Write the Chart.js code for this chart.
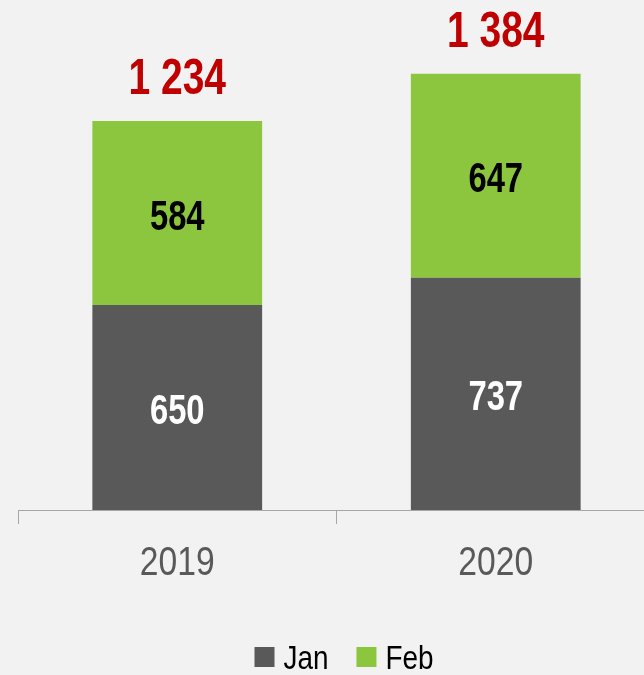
<!DOCTYPE html>
<html>
<head>
<meta charset="utf-8">
<script src="https://cdn.jsdelivr.net/npm/chart.js@4/dist/chart.umd.min.js"></script>
<style>
  html, body { margin:0; padding:0; background:#f2f2f2; overflow:hidden; }
  #wrap { width:688px; height:675px; }
</style>
</head>
<body>
<div id="wrap"><canvas id="chart" width="688" height="675"></canvas></div>
<script>
const years   = ['2019', '2020'];
const janVals = [650, 737];
const febVals = [584, 647];
const totalLabels = ['1 234', '1 384'];

const FONT = '"Liberation Sans", Arial, sans-serif';
Chart.defaults.font.family = FONT;

// Arial Narrow isn't installed, so squeeze Liberation Sans horizontally
function narrowText(ctx, text, x, yMid, size, bold, color, sx, align) {
  ctx.save();
  ctx.font = (bold ? 'bold ' : '') + size + 'px ' + FONT;
  ctx.fillStyle = color;
  ctx.textAlign = align || 'center';
  ctx.textBaseline = 'alphabetic';
  ctx.translate(x, yMid + size * 0.358);
  ctx.scale(sx, 1);
  ctx.fillText(text, 0, 0);
  ctx.restore();
}
function narrowWidth(ctx, text, size, sx) {
  ctx.save();
  ctx.font = size + 'px ' + FONT;
  const w = ctx.measureText(text).width * sx;
  ctx.restore();
  return w;
}

const narrowLabels = {
  id: 'narrowLabels',
  afterDatasetsDraw(chart) {
    const ctx = chart.ctx;
    // segment values
    chart.data.datasets.forEach((ds, di) => {
      chart.getDatasetMeta(di).data.forEach((bar, i) => {
        const mid = (bar.y + bar.base) / 2 + 1.5;
        narrowText(ctx, String(ds.data[i]), bar.x, mid, 42, true, di === 0 ? '#ffffff' : '#000000', 0.78);
      });
    });
    // totals
    chart.getDatasetMeta(1).data.forEach((bar, i) => {
      narrowText(ctx, totalLabels[i], bar.x, bar.y - 44.5, 50, true, '#c00000', 0.78);
    });
  },
  afterDraw(chart) {
    const ctx = chart.ctx;
    const xs = chart.scales.x;
    // category labels
    years.forEach((lab, i) => {
      narrowText(ctx, lab, xs.getPixelForTick(i), xs.top + 50, 41, false, '#595959', 0.82);
    });
    // legend
    const items = chart.data.datasets.map(ds => ({ text: ds.label, color: ds.backgroundColor }));
    const size = 34, sx = 0.82, box = 20, gapText = 9, gapItem = 28;
    const widths = items.map(it => box + gapText + narrowWidth(ctx, it.text, size, sx));
    const total = widths.reduce((a, b) => a + b, 0) + gapItem * (items.length - 1);
    let x = chart.width / 2 - total / 2;
    const yMid = 657;
    items.forEach((it, i) => {
      ctx.fillStyle = it.color;
      ctx.fillRect(x, yMid - 10, box, box);
      narrowText(ctx, it.text, x + box + gapText, yMid, size, false, '#000000', sx, 'left');
      x += widths[i] + gapItem;
    });
  }
};

new Chart(document.getElementById('chart'), {
  type: 'bar',
  data: {
    labels: years,
    datasets: [
      { label:'Jan', data:janVals, backgroundColor:'#595959' },
      { label:'Feb', data:febVals, backgroundColor:'#8cc63f' }
    ]
  },
  options: {
    responsive: false,
    animation: false,
    layout: { padding: { left:18, right:33, top:0, bottom:79 } },
    datasets: { bar: { categoryPercentage:1, barPercentage:0.533 } },
    plugins: {
      legend: { display:false },
      tooltip: { enabled:false }
    },
    scales: {
      x: {
        stacked: true,
        offset: true,
        grid: { offset:true, drawOnChartArea:false, color:'#a6a6a6', tickLength:14, lineWidth:1 },
        border: { color:'#a6a6a6', width:1 },
        ticks: { color:'rgba(0,0,0,0)', font:{ size:40 }, padding:12 }
      },
      y: {
        stacked: true,
        display: false,
        min: 0,
        max: 1618
      }
    }
  },
  plugins: [narrowLabels]
});
</script>
</body>
</html>
